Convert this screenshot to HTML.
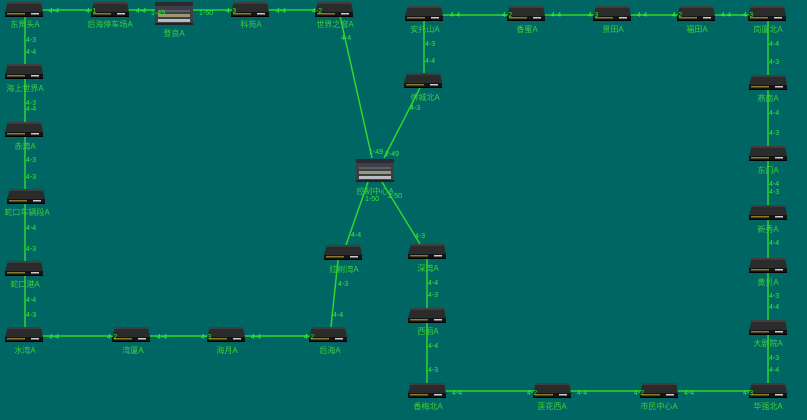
<!DOCTYPE html>
<html><head><meta charset="utf-8"><style>
html,body{margin:0;padding:0;background:#006663;}
svg{display:block}
text{font-family:"Liberation Sans","Noto Sans CJK SC",sans-serif;font-size:8px;fill:#3ccf3c;}
.p{font-size:7px;fill:#33ee33}
</style></head><body>
<svg width="807" height="420" viewBox="0 0 807 420" xmlns="http://www.w3.org/2000/svg">
<defs>
<g id="d">
<polygon points="-16,0 17,0 19,10 -19,10" fill="#2b2b2b"/>
<polygon points="-16,0 17,0 17.4,2 -16.4,2" fill="#3e3e3e"/>
<rect x="-19" y="10" width="38" height="4" fill="#141414"/>
<rect x="-17" y="11" width="18" height="1.5" fill="#8a7a30"/>
<rect x="7" y="11" width="8" height="1.5" fill="#ccc"/>
<rect x="-19" y="14" width="38" height="1" fill="#000"/>
</g>
<g id="s">
<rect x="-19" y="0" width="38" height="23" fill="#3d3f46"/>
<rect x="-19" y="0" width="38" height="4" fill="#2a2c31"/>
<rect x="-16" y="8" width="32" height="2" fill="#5a5e68"/>
<rect x="-16" y="12" width="32" height="3" fill="#9b9870"/>
<rect x="-16" y="17" width="32" height="3" fill="#b9bcc4"/>
<rect x="-19" y="21" width="38" height="2" fill="#222"/>
</g>
</defs>
<g stroke="#2ed62e" stroke-width="1.5" fill="none">
<!-- top left row -->
<line x1="24" y1="10" x2="334" y2="10"/>
<!-- left column -->
<line x1="25" y1="16" x2="25" y2="341"/>
<!-- bottom left row -->
<line x1="25" y1="336" x2="328" y2="336"/>
<line x1="338" y1="260" x2="331" y2="327"/>
<line x1="340" y1="16" x2="372" y2="158"/>
<line x1="420" y1="88" x2="384" y2="158"/>
<line x1="368" y1="182" x2="346" y2="245"/>
<line x1="382" y1="182" x2="420" y2="244"/>
<!-- right group -->
<line x1="424" y1="15" x2="767" y2="15"/>
<line x1="424" y1="15" x2="424" y2="75"/>
<line x1="768" y1="15" x2="768" y2="392"/>
<line x1="427" y1="258" x2="427" y2="390"/>
<line x1="427" y1="391" x2="768" y2="391"/>
</g>
<!-- devices -->
<use href="#d" x="24" y="2"/><use href="#d" x="110" y="2"/><use href="#s" x="174" y="2"/>
<use href="#d" x="250" y="2"/><use href="#d" x="334" y="2"/>
<use href="#d" x="24" y="64"/><use href="#d" x="24" y="122"/><use href="#d" x="26" y="189"/>
<use href="#d" x="24" y="261"/><use href="#d" x="24" y="327"/>
<use href="#d" x="131" y="327"/><use href="#d" x="226" y="327"/><use href="#d" x="328" y="327"/>
<use href="#d" x="343" y="245"/><use href="#s" x="375" y="159"/>
<use href="#d" x="424" y="6"/><use href="#d" x="423" y="73"/><use href="#d" x="526" y="6"/>
<use href="#d" x="612" y="6"/><use href="#d" x="696" y="6"/><use href="#d" x="767" y="6"/>
<use href="#d" x="768" y="75"/><use href="#d" x="768" y="146"/><use href="#d" x="768" y="205"/>
<use href="#d" x="768" y="258"/><use href="#d" x="768" y="320"/><use href="#d" x="768" y="383"/>
<use href="#d" x="427" y="244"/><use href="#d" x="427" y="308"/><use href="#d" x="427" y="383"/>
<use href="#d" x="552" y="383"/><use href="#d" x="659" y="383"/>
<!-- labels -->
<g text-anchor="middle">
<text x="25" y="27">东角头A</text><text x="110" y="27">后海停车场A</text><text x="174" y="36">登良A</text>
<text x="251" y="27">科苑A</text><text x="335" y="27">世界之窗A</text>
<text x="25" y="91">海上世界A</text><text x="25" y="149">赤湾A</text><text x="27" y="215">蛇口车辆段A</text>
<text x="25" y="287">蛇口港A</text><text x="25" y="353">水湾A</text>
<text x="133" y="353">湾厦A</text><text x="227" y="353">海月A</text><text x="330" y="353">后海A</text>
<text x="344" y="272">红树湾A</text><text x="375" y="194">控制中心A</text>
<text x="425" y="32">安托山A</text><text x="425" y="100">侨城北A</text><text x="527" y="32">香蜜A</text>
<text x="613" y="32">景田A</text><text x="697" y="32">福田A</text><text x="768" y="32">岗厦北A</text>
<text x="768" y="101">燕南A</text><text x="768" y="173">东门A</text><text x="768" y="232">新秀A</text>
<text x="768" y="285">黄贝A</text><text x="768" y="346">大剧院A</text><text x="768" y="409">华强北A</text>
<text x="428" y="271">深湾A</text><text x="428" y="334">西丽A</text><text x="428" y="409">香梅北A</text>
<text x="552" y="409">莲花西A</text><text x="659" y="409">市民中心A</text>
</g>
<!-- port labels -->
<g class="p">
<text class="p" x="49" y="13">4-4</text><text class="p" x="86" y="13">4-1</text><text class="p" x="136" y="13">4-4</text>
<text class="p" x="151" y="15">1-49</text><text class="p" x="199" y="15">1-50</text><text class="p" x="226" y="13">4-3</text>
<text class="p" x="276" y="13">4-4</text><text class="p" x="312" y="13">4-2</text><text class="p" x="341" y="40">4-4</text>
<text class="p" x="26" y="42">4-3</text><text class="p" x="26" y="54">4-4</text><text class="p" x="26" y="105">4-3</text><text class="p" x="26" y="111">4-4</text>
<text class="p" x="26" y="162">4-3</text><text class="p" x="26" y="179">4-3</text><text class="p" x="26" y="230">4-4</text><text class="p" x="26" y="251">4-3</text>
<text class="p" x="26" y="302">4-4</text><text class="p" x="26" y="317">4-3</text>
<text class="p" x="49" y="339">4-4</text><text class="p" x="107" y="339">4-2</text><text class="p" x="157" y="339">4-4</text><text class="p" x="201" y="339">4-3</text>
<text class="p" x="251" y="339">4-4</text><text class="p" x="304" y="339">4-2</text>
<text class="p" x="351" y="237">4-4</text><text class="p" x="338" y="286">4-3</text><text class="p" x="333" y="317">4-4</text>
<text class="p" x="369" y="154">1-49</text><text class="p" x="385" y="156">2-49</text><text class="p" x="365" y="201">1-50</text><text class="p" x="388" y="198">2-50</text>
<text class="p" x="415" y="238">4-3</text><text class="p" x="410" y="110">4-3</text>
<text class="p" x="425" y="46">4-3</text><text class="p" x="425" y="63">4-4</text>
<text class="p" x="450" y="17">4-4</text><text class="p" x="502" y="17">4-2</text><text class="p" x="551" y="17">4-4</text><text class="p" x="588" y="17">4-3</text>
<text class="p" x="637" y="17">4-4</text><text class="p" x="672" y="17">4-2</text><text class="p" x="721" y="17">4-4</text><text class="p" x="743" y="17">4-3</text>
<text class="p" x="769" y="46">4-4</text><text class="p" x="769" y="64">4-3</text><text class="p" x="769" y="115">4-4</text><text class="p" x="769" y="135">4-3</text>
<text class="p" x="769" y="186">4-4</text><text class="p" x="769" y="194">4-3</text><text class="p" x="769" y="245">4-4</text><text class="p" x="769" y="298">4-3</text>
<text class="p" x="769" y="309">4-4</text><text class="p" x="769" y="360">4-3</text><text class="p" x="769" y="372">4-4</text>
<text class="p" x="428" y="285">4-4</text><text class="p" x="428" y="297">4-3</text><text class="p" x="428" y="348">4-4</text><text class="p" x="428" y="372">4-3</text>
<text class="p" x="452" y="395">4-4</text><text class="p" x="527" y="395">4-2</text><text class="p" x="577" y="395">4-4</text><text class="p" x="634" y="395">4-2</text>
<text class="p" x="684" y="395">4-4</text><text class="p" x="743" y="395">4-3</text>
</g>
</svg>
</body></html>
